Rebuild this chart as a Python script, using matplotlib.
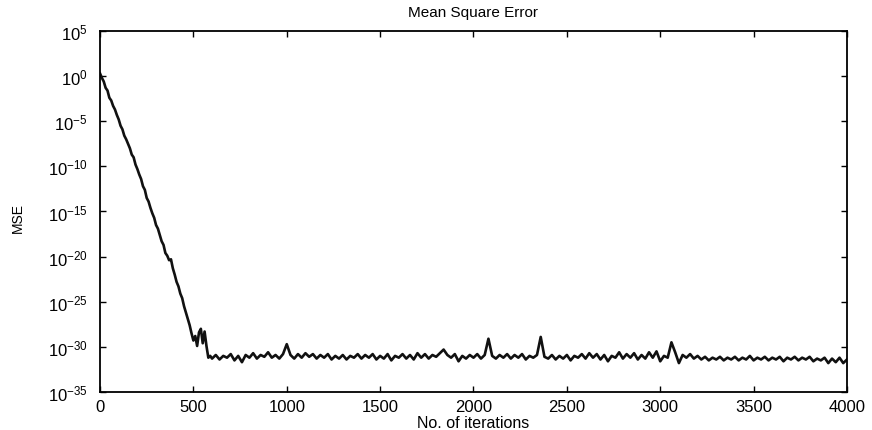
"""Mean square error vs. iterations."""
import matplotlib
matplotlib.use('Agg')
import matplotlib.pyplot as plt
import numpy as np

plt.rcParams['font.family'] = ['Liberation Sans', 'DejaVu Sans']
plt.rcParams['mathtext.default'] = 'regular'

# descent phase, log10(MSE) every 10 iterations
descent_iter = np.arange(0, 600, 10)
descent_log = [0.3, -0.2, -0.6, -1.3, -1.6, -2.4, -2.7, -3.3, -3.7, -4.3,
               -4.8, -5.5, -5.9, -6.6, -7.0, -7.5, -8.0, -8.7, -9.0, -9.8,
               -10.3, -10.9, -11.4, -12.2, -12.6, -13.5, -13.9, -14.6, -15.2, -15.7,
               -16.5, -16.9, -17.6, -18.3, -18.7, -19.6, -19.9, -20.4, -20.3, -21.3,
               -22.0, -22.8, -23.3, -24.1, -24.6, -25.5, -26.2, -26.9, -27.6, -28.5,
               -29.3, -28.8, -29.9, -28.4, -28.0, -29.6, -28.3, -29.9, -31.2, -31.0]

# floor phase, log10(MSE) every 20 iterations
floor_iter = np.arange(600, 4001, 20)
floor_log = [-31.3, -30.9, -31.4, -31.0, -31.2, -30.8, -31.5, -31.0, -31.7, -30.9,
             -31.2, -30.7, -31.3, -30.9, -31.1, -30.6, -31.2, -30.9, -31.3, -30.8,
             -29.7, -30.9, -31.3, -30.8, -31.2, -30.7, -31.1, -30.8, -31.3, -30.9,
             -31.2, -30.8, -31.4, -31.0, -31.3, -30.9, -31.4, -31.0, -31.2, -30.8,
             -31.3, -30.9, -31.2, -30.8, -31.4, -31.0, -31.3, -30.8, -31.5, -31.0,
             -31.2, -30.8, -31.3, -30.9, -31.4, -30.7, -31.2, -30.8, -31.3, -30.9,
             -31.1, -30.7, -30.3, -30.9, -31.2, -30.8, -31.6, -31.0, -31.3, -30.9,
             -31.2, -30.8, -31.3, -30.9, -29.1, -31.0, -31.3, -30.9, -31.2, -30.8,
             -31.3, -30.9, -31.2, -30.8, -31.4, -31.0, -31.2, -30.9, -28.9, -31.1,
             -31.3, -30.9, -31.4, -31.0, -31.3, -30.9, -31.5, -31.0, -31.2, -30.8,
             -31.3, -30.7, -31.2, -30.8, -31.4, -30.9, -31.6, -31.0, -31.2, -30.6,
             -31.3, -30.8, -31.2, -30.7, -31.4, -30.9, -31.3, -30.6, -31.2, -30.5,
             -31.6, -31.0, -31.2, -29.5, -30.6, -31.8, -30.9, -31.2, -30.8, -31.3,
             -31.0, -31.4, -31.1, -31.5, -31.2, -31.4, -31.1, -31.5, -31.2, -31.4,
             -31.1, -31.5, -31.2, -31.4, -31.0, -31.5, -31.2, -31.4, -31.1, -31.5,
             -31.2, -31.4, -31.1, -31.6, -31.2, -31.4, -31.1, -31.5, -31.2, -31.4,
             -31.1, -31.6, -31.3, -31.5, -31.2, -31.8, -31.3, -31.7, -31.2, -31.8,
             -31.4]

x_ticks = [0, 500, 1000, 1500, 2000, 2500, 3000, 3500, 4000]
y_exps = [5, 0, -5, -10, -15, -20, -25, -30, -35]

iters = np.concatenate([descent_iter, floor_iter])
mse = 10.0 ** np.concatenate([descent_log, floor_log])

fig = plt.figure(figsize=(8.72, 4.31), dpi=100)
ax = fig.add_axes([0.1147, 0.0882, 0.8566, 0.8376])
ax.plot(iters, mse, color='#111111', lw=1.9)

ax.set_yscale('log')
ax.set_xlim(0, 4000)
ax.set_ylim(1e-35, 1e5)
ax.set_xticks(x_ticks)
ax.set_xticklabels([str(t) for t in x_ticks])
ax.set_yticks([10.0 ** e for e in y_exps])
ax.set_yticklabels(['$10^{%d}$' % e for e in y_exps])
ax.minorticks_off()
ax.tick_params(direction='in', length=4, width=1, top=True, right=True,
               labelsize=12, colors='black')
ax.tick_params(axis='x', pad=5)
ax.tick_params(axis='y', pad=9)
for s in ax.spines.values():
    s.set_linewidth(1.3)

ax.set_title('Mean Square Error', fontsize=11, pad=11)
ax.set_xlabel('No. of iterations', fontsize=11.5, labelpad=1)
ax.set_ylabel('MSE', fontsize=10)
ax.yaxis.set_label_coords(-0.1, 0.485)

plt.savefig('out.png', dpi=100)
